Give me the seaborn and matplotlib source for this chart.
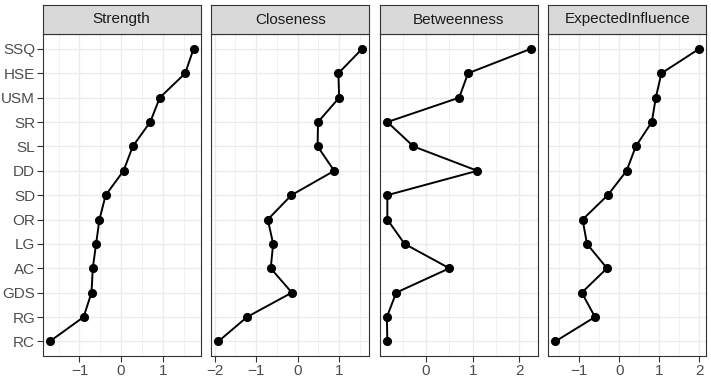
"""
Centrality plot of network nodes, four measures side by side.
"""

import pandas as pd
import matplotlib.pyplot as plt
import seaborn as sns
from matplotlib.ticker import MultipleLocator

nodes = ["SSQ", "HSE", "USM", "SR", "SL", "DD", "SD",
         "OR", "LG", "AC", "GDS", "RG", "RC"]
measures = ["Strength", "Closeness", "Betweenness", "ExpectedInfluence"]

strength = [1.74, 1.54, 0.93, 0.70, 0.28, 0.06, -0.37,
            -0.52, -0.60, -0.68, -0.71, -0.90, -1.71]
closeness = [1.55, 0.98, 1.00, 0.49, 0.48, 0.88, -0.15,
             -0.72, -0.59, -0.65, -0.14, -1.22, -1.91]
betweenness = [2.24, 0.90, 0.71, -0.83, -0.27, 1.10, -0.83,
               -0.83, -0.46, 0.50, -0.64, -0.84, -0.83]
expected_influence = [1.99, 1.05, 0.91, 0.81, 0.41, 0.18, -0.29,
                      -0.92, -0.81, -0.31, -0.94, -0.61, -1.60]

values = [strength, closeness, betweenness, expected_influence]

df = pd.concat(
    [pd.DataFrame({"node": nodes, "measure": m, "value": v})
     for m, v in zip(measures, values)],
    ignore_index=True
)

sns.set_theme(style="white")
plt.rcParams["font.family"] = ["Liberation Sans", "DejaVu Sans"]

fig = plt.figure(figsize=(7.11, 3.81), dpi=100)

W, H = 711, 381
panel_left = 42.7
panel_w = 158
gap = 10.5
panel_top = 34.3
panel_bottom = 356
strip_top = 4.7

border = "#333333"
grid = "#EBEBEB"
font_size = 11

for i, m in enumerate(measures):
    x0 = panel_left + i * (panel_w + gap)
    ax = fig.add_axes([x0 / W, 1 - panel_bottom / H,
                       panel_w / W, (panel_bottom - panel_top) / H])

    sub = df[df["measure"] == m]
    sns.pointplot(
        data=sub,
        x="value",
        y="node",
        order=nodes,
        orient="y",
        color="black",
        markers="o",
        markersize=5.5,
        linewidth=1.4,
        errorbar=None,
        ax=ax
    )

    # ggplot-like 5% expansion of each free x scale
    lo, hi = sub["value"].min(), sub["value"].max()
    pad = (hi - lo) * 0.05
    ax.set_xlim(lo - pad, hi + pad)
    ax.set_ylim(len(nodes) - 1 + 0.6, -0.6)

    ax.xaxis.set_major_locator(MultipleLocator(1))
    ax.xaxis.set_minor_locator(MultipleLocator(0.5))
    ax.grid(True, which="major", color=grid, linewidth=1.0, zorder=0)
    ax.grid(True, which="minor", axis="x", color=grid, linewidth=0.5, zorder=0)
    ax.set_axisbelow(True)
    ax.set_facecolor("white")

    for s in ax.spines.values():
        s.set_color(border)
        s.set_linewidth(0.8)
        s.set_visible(True)

    ax.set_xlabel("")
    ax.set_ylabel("")
    ax.tick_params(axis="x", which="major", length=4, width=0.8,
                   color=border, labelsize=font_size, labelcolor="#4D4D4D",
                   pad=1.5, bottom=True)
    ax.tick_params(axis="x", which="minor", length=0)
    ax.set_xticklabels([t.get_text().replace("-", "\u2212")
                        for t in ax.get_xticklabels()])

    if i == 0:
        ax.tick_params(axis="y", length=4, width=0.8, color=border,
                       labelsize=font_size, labelcolor="#4D4D4D",
                       pad=1.5, left=True)
    else:
        ax.tick_params(axis="y", left=False, labelleft=False)

    # facet strip
    strip = fig.add_axes([x0 / W, 1 - panel_top / H,
                          panel_w / W, (panel_top - strip_top) / H])
    strip.set_facecolor("#D9D9D9")
    strip.set_xticks([])
    strip.set_yticks([])
    for s in strip.spines.values():
        s.set_color(border)
        s.set_linewidth(0.8)
    strip.text(0.5, 0.5, m, ha="center", va="center",
               fontsize=font_size, color="#1A1A1A",
               transform=strip.transAxes)

fig.savefig("out.png", dpi=100)
plt.close(fig)
